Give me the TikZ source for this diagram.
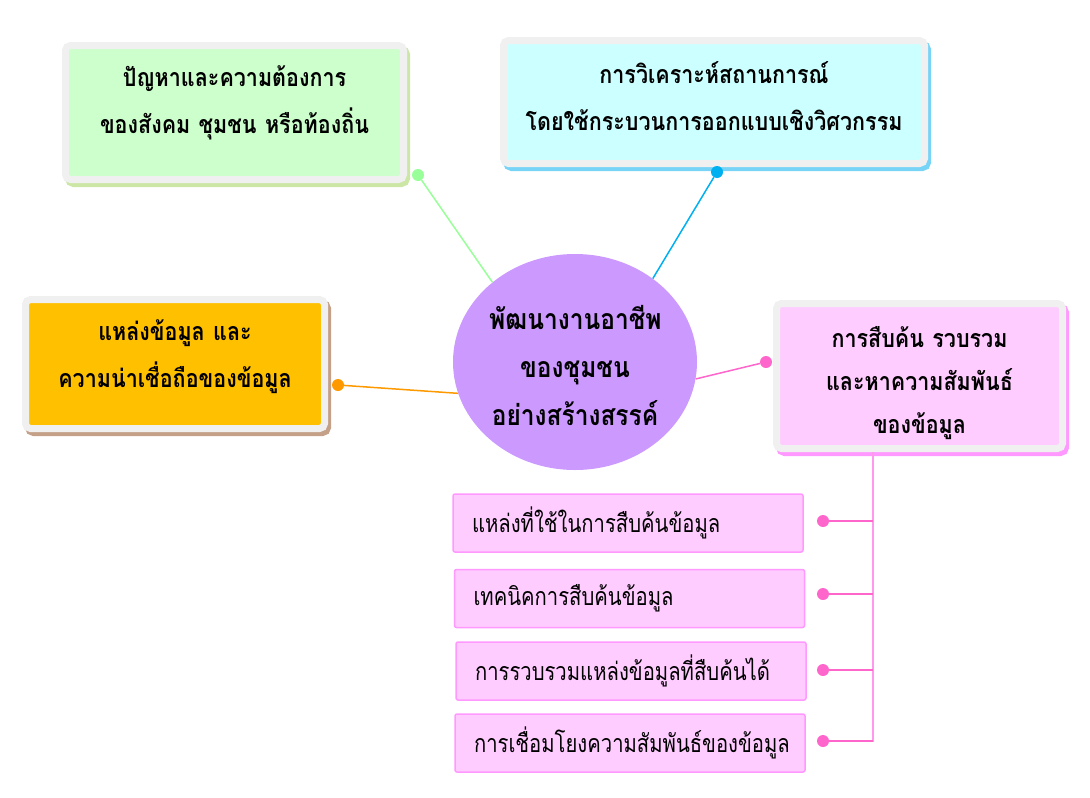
\documentclass[tikz,border=0pt]{standalone}
\usepackage{fontspec}
\usetikzlibrary{shapes.geometric}
\newfontfamily\thaifont[Script=Thai, FakeStretch=0.81]{Loma}
\newfontfamily\thaiheavy[Script=Thai, FakeStretch=0.86]{Loma}
\definecolor{framegray}{HTML}{F0F0F0}
\definecolor{needfill}{HTML}{CCFFCC}
\definecolor{needshadow}{HTML}{CCE6A6}
\definecolor{needline}{HTML}{99FF99}
\definecolor{analysefill}{HTML}{CCFFFF}
\definecolor{analyseshadow}{HTML}{77D4F7}
\definecolor{analyseline}{HTML}{00B0F0}
\definecolor{sourcefill}{HTML}{FFC000}
\definecolor{sourceshadow}{HTML}{C4A088}
\definecolor{sourceline}{HTML}{FF9900}
\definecolor{searchfill}{HTML}{FFCCFF}
\definecolor{searchshadow}{HTML}{FF99FF}
\definecolor{searchline}{HTML}{FF66CC}
\definecolor{spineline}{HTML}{FF99EE}
\definecolor{hubfill}{HTML}{CC99FF}
% first baseline sits a fixed distance below the top of the box
\tikzstyle{topic}=[rectangle, draw=framegray, line width=7pt, rounded corners=5pt, inner sep=0,
                   text height=41pt, align=center, font=\thaiheavy\bfseries\fontsize{25}{47}\selectfont]
\tikzstyle{subtopic}=[rectangle, draw=searchshadow, fill=searchfill, line width=1.5pt, rounded corners=2pt,
                      inner xsep=19pt, inner ysep=0, text width=312pt, minimum height=58pt,
                      align=left, font=\thaifont\fontsize{25}{28}\selectfont]
\tikzstyle{hub}=[ellipse, fill=hubfill, inner sep=0, minimum width=244pt, minimum height=216pt,
                 text width=172pt, text height=0pt, text depth=65pt,
                 align=center, font=\thaiheavy\bfseries\fontsize{28.5}{48}\selectfont]
\tikzstyle{knob}=[circle, inner sep=0, minimum size=12pt]
\tikzset{dropcol/.style={preaction={draw=#1, fill=#1, transform canvas={xshift=3pt, yshift=-4pt}}}}

\begin{document}
\begin{tikzpicture}[x=1pt, y=-1pt]
    \useasboundingbox (0, 0) rectangle (1090, 798);
    % centre
    \node[hub] (hub) at (575, 362) {พัฒนางานอาชีพ\\ของชุมชน\\อย่างสร้างสรรค์};
    % main topics
    \node[topic, fill=needfill, dropcol=needshadow, text width=338pt, text depth=93pt] (need) at (234.5, 112.5)
        {ปัญหาและความต้องการ\\ของสังคม ชุมชน หรือท้องถิ่น};
    \node[topic, fill=analysefill, dropcol=analyseshadow, text width=421pt, text height=43pt, text depth=80pt] (analyse) at (714, 102)
        {การวิเคราะห์สถานการณ์\\โดยใช้กระบวนการออกแบบเชิงวิศวกรรม};
    \node[topic, fill=sourcefill, dropcol=sourceshadow, text width=299pt, text depth=88pt] (source) at (175, 364)
        {แหล่งข้อมูล และ\\ความน่าเชื่อถือของข้อมูล};
    \node[topic, fill=searchfill, dropcol=searchshadow, text width=286pt, text height=43.5pt, text depth=101.5pt,
          font=\thaiheavy\bfseries\fontsize{25}{43}\selectfont] (search) at (919.5, 376)
        {การสืบค้น รวบรวม\\และหาความสัมพันธ์\\ของข้อมูล};
    % knobs
    \node[knob, fill=needline] (needdot) at (418, 175) {};
    \node[knob, fill=analyseline] (analysedot) at (717, 172) {};
    \node[knob, fill=sourceline] (sourcedot) at (338, 385) {};
    \node[knob, fill=searchline] (searchdot) at (766, 362) {};
    \draw[needline, line width=1.5pt] (needdot) -- (hub.136);
    \draw[analyseline, line width=1.5pt] (analysedot) -- (hub.47);
    \draw[sourceline, line width=1.5pt] (sourcedot) -- (hub.195);
    \draw[searchline, line width=1.5pt] (searchdot) -- (hub.352);
    % sub topics
    \node[subtopic] (sub1) at (628, 523) {แหล่งที่ใช้ในการสืบค้นข้อมูล};
    \node[subtopic] (sub2) at (629.5, 598.5) {เทคนิคการสืบค้นข้อมูล};
    \node[subtopic] (sub3) at (631, 671) {การรวบรวมแหล่งข้อมูลที่สืบค้นได้};
    \node[subtopic] (sub4) at (630, 743) {การเชื่อมโยงความสัมพันธ์ของข้อมูล};
    \coordinate (spinetop) at (873, 452);
    \coordinate (spinebot) at (873, 742);
    \draw[spineline, line width=1.5pt] (spinetop) -- (spinebot);
    \foreach \i/\y in {1/521, 2/594, 3/670, 4/741} {
        \node[knob, fill=searchline] (subdot\i) at (823, \y) {};
        \draw[searchline, line width=1.5pt] (subdot\i) -- (subdot\i -| spinetop);
    }
\end{tikzpicture}
\end{document}
